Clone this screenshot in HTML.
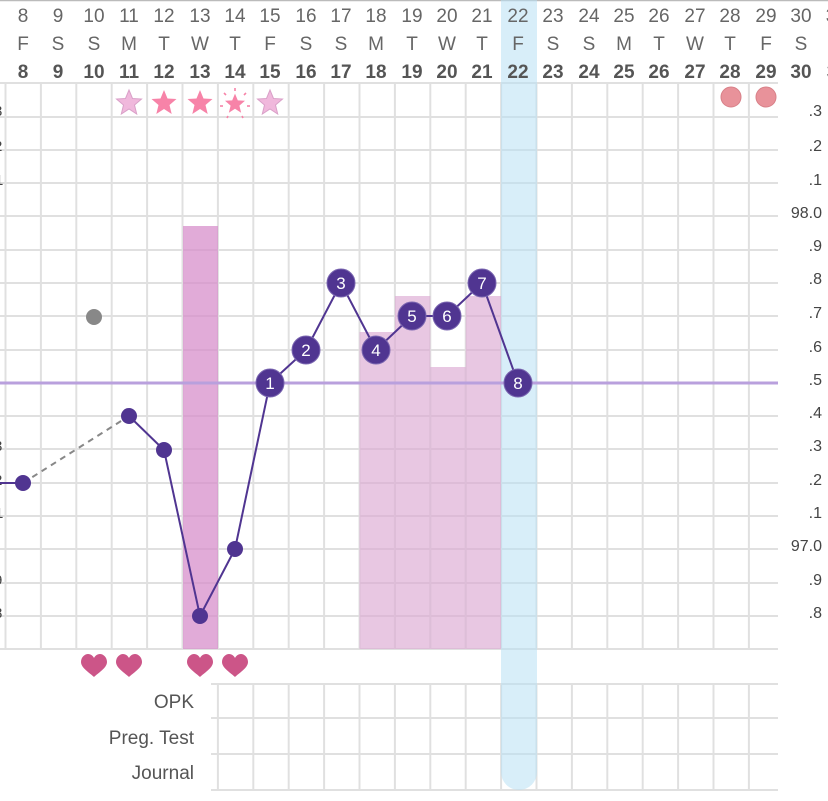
<!DOCTYPE html>
<html><head><meta charset="utf-8"><style>
html,body{margin:0;padding:0;background:#fff;}
svg{display:block;font-family:"Liberation Sans",sans-serif;}
</style></head><body>
<svg width="828" height="801" viewBox="0 0 828 801" xmlns="http://www.w3.org/2000/svg">
<rect width="828" height="801" fill="#fff"/>
<line x1="0" y1="0.5" x2="828" y2="0.5" stroke="#bbb" stroke-width="1.5"/>
<g stroke="#e0e0e0" stroke-width="2" id="grid">
<line x1="0" y1="83" x2="778" y2="83"/><line x1="0" y1="117" x2="778" y2="117"/><line x1="0" y1="150" x2="778" y2="150"/><line x1="0" y1="183" x2="778" y2="183"/><line x1="0" y1="216" x2="778" y2="216"/><line x1="0" y1="250" x2="778" y2="250"/><line x1="0" y1="283" x2="778" y2="283"/><line x1="0" y1="316" x2="778" y2="316"/><line x1="0" y1="350" x2="778" y2="350"/><line x1="0" y1="416" x2="778" y2="416"/><line x1="0" y1="449" x2="778" y2="449"/><line x1="0" y1="483" x2="778" y2="483"/><line x1="0" y1="516" x2="778" y2="516"/><line x1="0" y1="549" x2="778" y2="549"/><line x1="0" y1="583" x2="778" y2="583"/><line x1="0" y1="616" x2="778" y2="616"/><line x1="0" y1="649" x2="778" y2="649"/>
<line x1="211" y1="684" x2="778" y2="684"/><line x1="211" y1="718" x2="778" y2="718"/><line x1="211" y1="754" x2="778" y2="754"/><line x1="211" y1="790" x2="778" y2="790"/>
<line x1="5.5" y1="83" x2="5.5" y2="649"/><line x1="40.9" y1="83" x2="40.9" y2="649"/><line x1="76.3" y1="83" x2="76.3" y2="649"/><line x1="111.7" y1="83" x2="111.7" y2="649"/><line x1="147.1" y1="83" x2="147.1" y2="649"/><line x1="182.5" y1="83" x2="182.5" y2="649"/><line x1="217.9" y1="83" x2="217.9" y2="649"/><line x1="253.3" y1="83" x2="253.3" y2="649"/><line x1="288.7" y1="83" x2="288.7" y2="649"/><line x1="324.1" y1="83" x2="324.1" y2="649"/><line x1="359.5" y1="83" x2="359.5" y2="649"/><line x1="394.9" y1="83" x2="394.9" y2="649"/><line x1="430.3" y1="83" x2="430.3" y2="649"/><line x1="465.7" y1="83" x2="465.7" y2="649"/><line x1="501.1" y1="83" x2="501.1" y2="649"/><line x1="536.5" y1="83" x2="536.5" y2="649"/><line x1="571.9" y1="83" x2="571.9" y2="649"/><line x1="607.3" y1="83" x2="607.3" y2="649"/><line x1="642.7" y1="83" x2="642.7" y2="649"/><line x1="678.1" y1="83" x2="678.1" y2="649"/><line x1="713.5" y1="83" x2="713.5" y2="649"/><line x1="748.9" y1="83" x2="748.9" y2="649"/>
<line x1="217.9" y1="684" x2="217.9" y2="790"/><line x1="253.3" y1="684" x2="253.3" y2="790"/><line x1="288.7" y1="684" x2="288.7" y2="790"/><line x1="324.1" y1="684" x2="324.1" y2="790"/><line x1="359.5" y1="684" x2="359.5" y2="790"/><line x1="394.9" y1="684" x2="394.9" y2="790"/><line x1="430.3" y1="684" x2="430.3" y2="790"/><line x1="465.7" y1="684" x2="465.7" y2="790"/><line x1="501.1" y1="684" x2="501.1" y2="790"/><line x1="536.5" y1="684" x2="536.5" y2="790"/><line x1="571.9" y1="684" x2="571.9" y2="790"/><line x1="607.3" y1="684" x2="607.3" y2="790"/><line x1="642.7" y1="684" x2="642.7" y2="790"/><line x1="678.1" y1="684" x2="678.1" y2="790"/><line x1="713.5" y1="684" x2="713.5" y2="790"/><line x1="748.9" y1="684" x2="748.9" y2="790"/>
</g>
<rect x="183" y="226" width="35" height="423" fill="#d78fcb" opacity="0.75"/>
<rect x="359.5" y="332" width="35.4" height="317" fill="#dba9d3" opacity="0.65"/>
<rect x="394.9" y="296" width="35.4" height="353" fill="#dba9d3" opacity="0.65"/>
<rect x="430.3" y="367" width="35.4" height="282" fill="#dba9d3" opacity="0.65"/>
<rect x="465.7" y="296" width="35.4" height="353" fill="#dba9d3" opacity="0.65"/>
<path d="M501 0 H537 V772 A18 18 0 0 1 501 772 Z" fill="#b8e0f4" opacity="0.55"/>
<line x1="0" y1="383" x2="778" y2="383" stroke="#b9a0dd" stroke-width="3"/>
<g fill="#666" font-size="19" text-anchor="middle">
<text x="23" y="22">8</text><text x="58" y="22">9</text><text x="94" y="22">10</text><text x="129" y="22">11</text><text x="164" y="22">12</text><text x="200" y="22">13</text><text x="235" y="22">14</text><text x="270" y="22">15</text><text x="306" y="22">16</text><text x="341" y="22">17</text><text x="376" y="22">18</text><text x="412" y="22">19</text><text x="447" y="22">20</text><text x="482" y="22">21</text><text x="518" y="22">22</text><text x="553" y="22">23</text><text x="589" y="22">24</text><text x="624" y="22">25</text><text x="659" y="22">26</text><text x="695" y="22">27</text><text x="730" y="22">28</text><text x="766" y="22">29</text><text x="801" y="22">30</text><text x="831" y="22">3</text>
<text x="23" y="50">F</text><text x="58" y="50">S</text><text x="94" y="50">S</text><text x="129" y="50">M</text><text x="164" y="50">T</text><text x="200" y="50">W</text><text x="235" y="50">T</text><text x="270" y="50">F</text><text x="306" y="50">S</text><text x="341" y="50">S</text><text x="376" y="50">M</text><text x="412" y="50">T</text><text x="447" y="50">W</text><text x="482" y="50">T</text><text x="518" y="50">F</text><text x="553" y="50">S</text><text x="589" y="50">S</text><text x="624" y="50">M</text><text x="659" y="50">T</text><text x="695" y="50">W</text><text x="730" y="50">T</text><text x="766" y="50">F</text><text x="801" y="50">S</text>
</g>
<g fill="#555" font-size="19" font-weight="bold" text-anchor="middle">
<text x="23" y="78">8</text><text x="58" y="78">9</text><text x="94" y="78">10</text><text x="129" y="78">11</text><text x="164" y="78">12</text><text x="200" y="78">13</text><text x="235" y="78">14</text><text x="270" y="78">15</text><text x="306" y="78">16</text><text x="341" y="78">17</text><text x="376" y="78">18</text><text x="412" y="78">19</text><text x="447" y="78">20</text><text x="482" y="78">21</text><text x="518" y="78">22</text><text x="553" y="78">23</text><text x="589" y="78">24</text><text x="624" y="78">25</text><text x="659" y="78">26</text><text x="695" y="78">27</text><text x="730" y="78">28</text><text x="766" y="78">29</text><text x="801" y="78">30</text><text x="832" y="78">3</text>
</g>
<g stroke-width="1">
<polygon transform="translate(129,103)" points="0,-13 3.5,-4.5 12.5,-4 5.5,2 7.7,11 0,6 -7.7,11 -5.5,2 -12.5,-4 -3.5,-4.5" fill="#f0b8dc" stroke="#d9a0c8"/>
<polygon transform="translate(164,103)" points="0,-13 3.5,-4.5 12.5,-4 5.5,2 7.7,11 0,6 -7.7,11 -5.5,2 -12.5,-4 -3.5,-4.5" fill="#f783a8"/>
<polygon transform="translate(200,103)" points="0,-13 3.5,-4.5 12.5,-4 5.5,2 7.7,11 0,6 -7.7,11 -5.5,2 -12.5,-4 -3.5,-4.5" fill="#f783a8"/>
<polygon transform="translate(235,104) scale(0.8)" points="0,-13 3.5,-4.5 12.5,-4 5.5,2 7.7,11 0,6 -7.7,11 -5.5,2 -12.5,-4 -3.5,-4.5" fill="#f783a8"/>
<g stroke="#f783a8" stroke-width="1.6"><line x1="235" y1="88" x2="235" y2="91"/><line x1="246" y1="93" x2="244" y2="95"/><line x1="224" y1="93" x2="226" y2="95"/><line x1="247" y1="106" x2="250" y2="106"/><line x1="223" y1="106" x2="220" y2="106"/><line x1="228" y1="116" x2="227" y2="118"/><line x1="242" y1="116" x2="243" y2="118"/></g>
<polygon transform="translate(270,103)" points="0,-13 3.5,-4.5 12.5,-4 5.5,2 7.7,11 0,6 -7.7,11 -5.5,2 -12.5,-4 -3.5,-4.5" fill="#f0b8dc" stroke="#d9a0c8"/>
</g>
<circle cx="731" cy="97" r="10" fill="#e8929a" stroke="#d88088"/>
<circle cx="766" cy="97" r="10" fill="#e8929a" stroke="#d88088"/>
<rect x="779" y="83" width="49" height="570" fill="#fff"/>
<g fill="#444" font-size="16" text-anchor="end">
<text x="822" y="116">.3</text><text x="822" y="151">.2</text><text x="822" y="185">.1</text><text x="822" y="218">98.0</text><text x="822" y="251">.9</text><text x="822" y="284">.8</text><text x="822" y="318">.7</text><text x="822" y="352">.6</text><text x="822" y="385">.5</text><text x="822" y="418">.4</text><text x="822" y="451">.3</text><text x="822" y="485">.2</text><text x="822" y="518">.1</text><text x="822" y="551">97.0</text><text x="822" y="585">.9</text><text x="822" y="618">.8</text>
</g>
<g fill="#444" font-size="15"><text x="-6" y="116">3</text><text x="-6" y="151">2</text><text x="-5" y="185">1</text><text x="-6" y="451">3</text><text x="-6" y="485">2</text><text x="-5" y="518">1</text><text x="-6" y="585">9</text><text x="-6" y="618">8</text></g>
<line x1="0" y1="483" x2="23" y2="483" stroke="#503591" stroke-width="2"/>
<line x1="23" y1="483" x2="129" y2="416" stroke="#888" stroke-width="2" stroke-dasharray="6,5"/>
<polyline points="129,416 164,450 200,616 235,549 270,383 306,350 341,283 376,350 412,316 447,316 482,283 518,383" fill="none" stroke="#503591" stroke-width="2"/>
<circle cx="94" cy="317" r="8" fill="#888"/>
<g fill="#503591"><circle cx="23" cy="483" r="8"/><circle cx="129" cy="416" r="8"/><circle cx="164" cy="450" r="8"/><circle cx="200" cy="616" r="8"/><circle cx="235" cy="549" r="8"/></g>
<g fill="#503591" stroke="#7a66b0" stroke-width="1"><circle cx="270" cy="383" r="14"/><circle cx="306" cy="350" r="14"/><circle cx="341" cy="283" r="14"/><circle cx="376" cy="350" r="14"/><circle cx="412" cy="316" r="14"/><circle cx="447" cy="316" r="14"/><circle cx="482" cy="283" r="14"/><circle cx="518" cy="383" r="14"/></g>
<g fill="#fff" font-size="17" text-anchor="middle"><text x="270" y="389">1</text><text x="306" y="356">2</text><text x="341" y="289">3</text><text x="376" y="356">4</text><text x="412" y="322">5</text><text x="447" y="322">6</text><text x="482" y="289">7</text><text x="518" y="389">8</text></g>
<g fill="#cc5588">
<path transform="translate(94,666)" d="M0,11 C-4,7 -13,2 -13,-4 C-13,-9 -9,-12 -6,-12 C-3,-12 -1,-10 0,-8 C1,-10 3,-12 6,-12 C9,-12 13,-9 13,-4 C13,2 4,7 0,11Z"/>
<path transform="translate(129,666)" d="M0,11 C-4,7 -13,2 -13,-4 C-13,-9 -9,-12 -6,-12 C-3,-12 -1,-10 0,-8 C1,-10 3,-12 6,-12 C9,-12 13,-9 13,-4 C13,2 4,7 0,11Z"/>
<path transform="translate(200,666)" d="M0,11 C-4,7 -13,2 -13,-4 C-13,-9 -9,-12 -6,-12 C-3,-12 -1,-10 0,-8 C1,-10 3,-12 6,-12 C9,-12 13,-9 13,-4 C13,2 4,7 0,11Z"/>
<path transform="translate(235,666)" d="M0,11 C-4,7 -13,2 -13,-4 C-13,-9 -9,-12 -6,-12 C-3,-12 -1,-10 0,-8 C1,-10 3,-12 6,-12 C9,-12 13,-9 13,-4 C13,2 4,7 0,11Z"/>
</g>
<g fill="#555" font-size="19" text-anchor="end"><text x="194" y="708">OPK</text><text x="194" y="744">Preg. Test</text><text x="194" y="779">Journal</text></g>
</svg>
</body></html>
